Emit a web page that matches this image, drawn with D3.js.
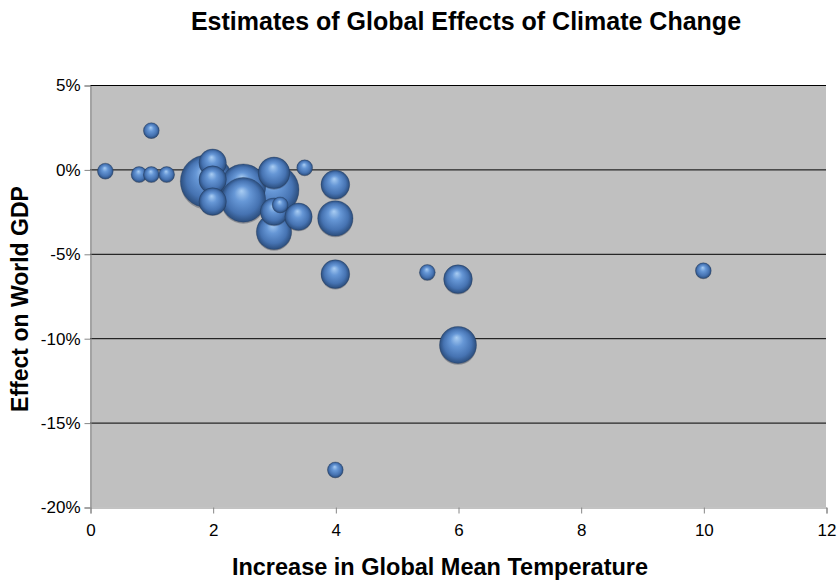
<!DOCTYPE html>
<html>
<head>
<meta charset="utf-8">
<script src="https://cdnjs.cloudflare.com/ajax/libs/d3/7.8.5/d3.min.js"></script>
<style>
  body { margin: 0; background: #fff; }
  svg { font-family: 'Liberation Sans', Arial, sans-serif; }
  .tick text { font-size: 17px; fill: #000; }
  .axis-label { font-weight: bold; }
</style>
</head>
<body>
<div id="viz"></div>
<script>
// temperature increase (deg C), effect on world GDP (%), bubble weight
const temps   = [0.25, 1.0, 0.8, 1.0, 1.25, 1.9, 2.0, 2.0, 2.0, 2.5, 2.5, 3.0, 3.0, 3.1, 3.0, 3.0, 3.4, 3.5, 4.0, 4.0, 4.0, 5.5, 6.0, 6.0, 10.0, 4.0];
const effects = [-0.1, 2.3, -0.3, -0.3, -0.3, -0.7, 0.4, -0.6, -1.9, -1.0, -1.8, -0.2, -1.2, -2.1, -2.5, -3.7, -2.8, 0.1, -0.9, -2.9, -6.2, -6.1, -6.5, -10.4, -6.0, -17.8];
const weights = [1, 1, 1, 1, 1, 11, 3, 3, 3, 8, 8, 4, 10, 1, 3, 5, 3, 1, 3.3, 5, 3.3, 1, 3.3, 5.5, 1, 1];
const xTickVals = [0, 2, 4, 6, 8, 10, 12];
const yTickVals = [5, 0, -5, -10, -15, -20];

const data = temps.map((t, i) => ({ temp: t, effect: effects[i], w: weights[i] }));

const canvasWidth = 838;
const canvasHeight = 582;
const margin = { top: 85, right: 12, bottom: 75, left: 90 };
const plotWidth = canvasWidth - margin.left - margin.right;
const plotHeight = canvasHeight - margin.top - margin.bottom;

const xScale = d3.scaleLinear().domain([0, 12]).range([0, plotWidth]);
const yScale = d3.scaleLinear().domain([-20, 5]).range([plotHeight, 0]);
const rScale = d3.scaleSqrt().domain([0, 10]).range([0, 25]);

const chart = d3.select('#viz')
  .append('svg')
  .attr('width', canvasWidth)
  .attr('height', canvasHeight);

const defs = chart.append('defs');
const grad = defs.append('radialGradient')
  .attr('id', 'ball')
  .attr('cx', '50%').attr('cy', '50%').attr('r', '50%')
  .attr('fx', '46%').attr('fy', '30%');
grad.append('stop').attr('offset', '0%').attr('stop-color', '#a9cdf3');
grad.append('stop').attr('offset', '35%').attr('stop-color', '#6697d6');
grad.append('stop').attr('offset', '75%').attr('stop-color', '#4673b2');
grad.append('stop').attr('offset', '100%').attr('stop-color', '#2b4d7c');

const plot = chart.append('g')
  .attr('transform', `translate(${margin.left}, ${margin.top})`);

plot.append('rect')
  .attr('width', plotWidth)
  .attr('height', plotHeight)
  .attr('fill', '#c0c0c0');

// horizontal gridlines
plot.selectAll('.grid')
  .data(yTickVals.filter((v) => v !== -20))
  .enter().append('line')
    .attr('x1', 0)
    .attr('x2', plotWidth)
    .attr('y1', (d) => yScale(d) + 0.5)
    .attr('y2', (d) => yScale(d) + 0.5)
    .attr('stroke', '#000')
    .attr('stroke-width', 1);

const yAxis = chart.append('g')
  .attr('transform', `translate(${margin.left + 0.5}, ${margin.top + 0.5})`)
  .call(d3.axisLeft(yScale).tickValues(yTickVals).tickSize(6).tickPadding(4)
    .tickFormat((d) => d + '%'));
yAxis.select('.domain').attr('stroke', '#868686');
yAxis.selectAll('.tick line').attr('stroke', '#868686');

const xAxis = chart.append('g')
  .attr('transform', `translate(${margin.left + 0.5}, ${margin.top + plotHeight + 0.5})`)
  .call(d3.axisBottom(xScale).tickValues(xTickVals).tickSize(6).tickPadding(10));
xAxis.select('.domain').attr('stroke', '#868686');
xAxis.selectAll('.tick line').attr('stroke', '#868686');
chart.selectAll('.tick text').attr('font-family', null).attr('font-size', null);

// bubbles, biggest first so small ones sit on top
const sorted = data.slice().sort((a, b) => b.w - a.w);
const bubbles = plot.selectAll('g.bubble')
  .data(sorted)
  .enter().append('g')
    .attr('class', 'bubble')
    .attr('transform', (d) => `translate(${xScale(d.temp)}, ${yScale(d.effect)})`);

bubbles.append('ellipse')
  .attr('cx', 0)
  .attr('cy', (d) => rScale(d.w) * 0.12)
  .attr('rx', (d) => rScale(d.w) * 0.98)
  .attr('ry', (d) => rScale(d.w) * 0.95)
  .attr('fill', 'rgba(40,50,70,0.35)');

bubbles.append('circle')
  .attr('r', (d) => rScale(d.w))
  .attr('fill', 'url(#ball)')
  .attr('stroke', 'rgba(30,50,80,0.5)')
  .attr('stroke-width', 0.6);

chart.append('text')
  .attr('x', 466)
  .attr('y', 30)
  .attr('text-anchor', 'middle')
  .attr('font-size', '25px')
  .attr('font-weight', 'bold')
  .text('Estimates of Global Effects of Climate Change');

chart.append('text')
  .attr('class', 'axis-label')
  .attr('x', 440)
  .attr('y', 575)
  .attr('text-anchor', 'middle')
  .attr('font-size', '23.5px')
  .text('Increase in Global Mean Temperature');

chart.append('text')
  .attr('class', 'axis-label')
  .attr('transform', 'rotate(270)')
  .attr('x', -299)
  .attr('y', 28)
  .attr('text-anchor', 'middle')
  .attr('font-size', '23px')
  .text('Effect on World GDP');
</script>
</body>
</html>
